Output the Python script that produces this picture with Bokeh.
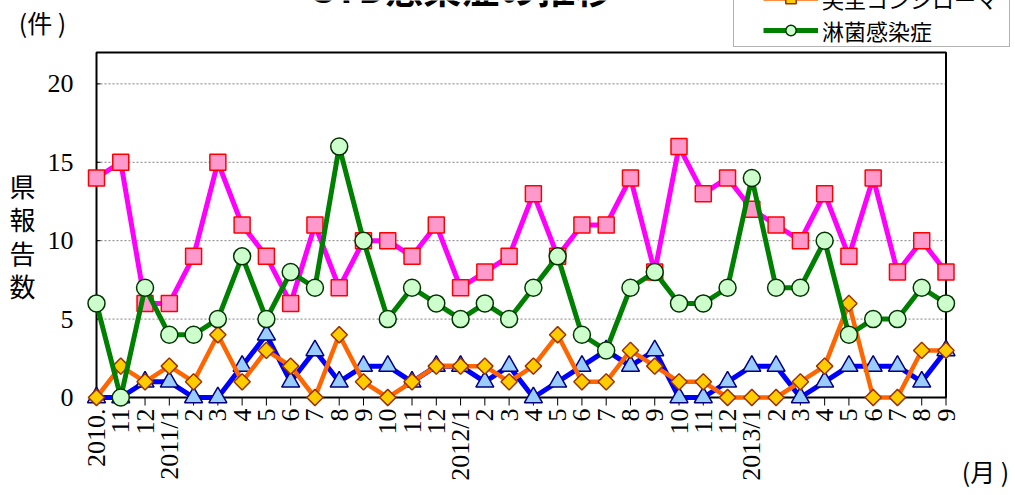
import math
from bokeh.plotting import figure
from bokeh.models import Range1d, Legend, LegendItem, Label
from bokeh.embed import file_html
from bokeh.resources import INLINE

# ---- data -------------------------------------------------------------
months = ["2010.", "11", "12",
          "2011/1", "2", "3", "4", "5", "6", "7", "8", "9", "10", "11", "12",
          "2012/1", "2", "3", "4", "5", "6", "7", "8", "9", "10", "11", "12",
          "2013/1", "2", "3", "4", "5", "6", "7", "8", "9"]
chlamydia = [14, 15, 6, 6, 9, 15, 11, 9, 6, 11, 7, 10, 10, 9, 11, 7, 8, 9,
             13, 9, 11, 11, 14, 8, 16, 13, 14, 12, 11, 10, 13, 9, 14, 8, 10, 8]
herpes = [0, 0, 1, 1, 0, 0, 2, 4, 1, 3, 1, 2, 2, 1, 2, 2, 1, 2,
          0, 1, 2, 3, 2, 3, 0, 0, 1, 2, 2, 0, 1, 2, 2, 2, 1, 3]
condyloma = [0, 2, 1, 2, 1, 4, 1, 3, 2, 0, 4, 1, 0, 1, 2, 2, 2, 1,
             2, 4, 1, 1, 3, 2, 1, 1, 0, 0, 0, 1, 2, 6, 0, 0, 3, 3]
gonorrhea = [6, 0, 7, 4, 4, 5, 9, 5, 8, 7, 16, 10, 5, 7, 6, 5, 6, 5,
             7, 9, 4, 3, 7, 8, 6, 6, 7, 14, 7, 7, 10, 4, 5, 5, 7, 6]
series_names = ["性器クラミジア感染症", "性器ヘルペス", "尖圭コンジローマ", "淋菌感染症"]
y_ticks = [0, 5, 10, 15, 20]
y_max = 22
title = "STD感染症の推移"

# ---- layout (canvas pixels; the frame covers the whole canvas) ---------
W, H = 1015, 495
box_l, box_r, box_t, box_b = 96, 945.5, 52, 397   # data box on the canvas
n = len(months)
xs = list(range(n))
xpx = (box_r - box_l) / (n - 1)
ypx = (box_b - box_t) / y_max

p = figure(width=W, height=H, output_backend="svg", toolbar_location=None,
           x_axis_type=None, y_axis_type=None,
           x_range=Range1d(-box_l / xpx, (n - 1) + (W - box_r) / xpx),
           y_range=Range1d(-(H - box_b) / ypx, y_max + box_t / ypx),
           min_border=0, min_border_left=0, min_border_right=0,
           min_border_top=0, min_border_bottom=0)
p.outline_line_color = None
p.xgrid.visible = False
p.ygrid.visible = False
p.background_fill_color = "white"
p.border_fill_color = "white"

num_font = "Liberation Sans"
cjk = "Noto Sans CJK JP"

# grid lines (dotted) limited to the data box
grid_r = p.segment(x0=[xs[0]] * 4, x1=[xs[-1]] * 4, y0=y_ticks[1:], y1=y_ticks[1:],
                   line_color="#808080", line_width=1, line_dash="2 2")
# small inward ticks on the y axis
p.segment(x0=[xs[0]] * len(y_ticks), x1=[xs[0] + 4 / xpx] * len(y_ticks),
          y0=y_ticks, y1=y_ticks, line_color="black", line_width=1)
# outward ticks on the x axis
p.segment(x0=xs, x1=xs, y0=[0] * n, y1=[-8 / ypx] * n,
          line_color="black", line_width=1)
# plot box
p.quad(left=[xs[0]], right=[xs[-1]], bottom=[0], top=[y_max],
       fill_color=None, line_color="black", line_width=2)

# tick labels
p.text(x=[xs[0]] * len(y_ticks), y=y_ticks, text=[str(t) for t in y_ticks],
       x_offset=-23, text_align="right", text_baseline="middle",
       text_font=num_font, text_font_size="26px", text_color="black")
p.text(x=xs, y=[0] * n, text=months, angle=math.pi / 2, y_offset=11,
       text_align="right", text_baseline="middle",
       text_font=num_font, text_font_size="26px", text_color="black")

# series
l1 = p.line(xs, chlamydia, line_color="#FF00FF", line_width=5, line_join="round")
s1 = p.scatter(xs, chlamydia, marker="square", size=16, fill_color="#FF99CC",
               line_color="#FF0000", line_width=1.5)
l2 = p.line(xs, herpes, line_color="#0000FF", line_width=5, line_join="round")
s2 = p.scatter(xs, herpes, marker="triangle", size=18, fill_color="#99CCFF",
               line_color="#000080", line_width=1.5)
l3 = p.line(xs, condyloma, line_color="#FF6600", line_width=4.5, line_join="round")
s3 = p.scatter(xs, condyloma, marker="square", angle=math.pi / 4, size=11.5,
               fill_color="#FFCC00", line_color="#993300", line_width=1.5)
l4 = p.line(xs, gonorrhea, line_color="#008000", line_width=5, line_join="round")
s4 = p.scatter(xs, gonorrhea, marker="circle", size=17, fill_color="#CCFFCC",
               line_color="#003300", line_width=1.5)

# legend frame (box only)
leg_box = Legend(items=[LegendItem(label=" ", renderers=[grid_r])],
                 location=(733, H - 47), glyph_width=0,
                 glyph_height=90, label_height=90, label_width=275,
                 label_standoff=0, padding=0, spacing=0, margin=0,
                 border_line_color="#666666", border_line_width=1,
                 background_fill_color="white", background_fill_alpha=1,
                 label_text_alpha=0)
# legend entries
leg = Legend(items=[LegendItem(label=series_names[2], renderers=[l3, s3]),
                    LegendItem(label=series_names[3], renderers=[l4, s4])],
             location=(763, H - 46), glyph_width=55,
             glyph_height=26, label_height=26, label_standoff=4, padding=0,
             spacing=0, margin=0, border_line_alpha=0, background_fill_alpha=0,
             label_text_font="Liberation Sans, Noto Sans CJK JP",
             label_text_font_size="22px", label_text_color="black")
p.add_layout(leg_box, "center")
p.add_layout(leg, "center")

# texts
p.add_layout(Label(x=462, y=H + 14, x_units="screen", y_units="screen",
                   text=title, text_font=cjk, text_font_size="38px",
                   text_font_style="bold", text_align="center",
                   text_baseline="alphabetic", text_color="black"))
p.add_layout(Label(x=42, y=H - 21, x_units="screen", y_units="screen",
                   text="(件 )", text_font=cjk, text_font_size="25px",
                   text_align="center", text_baseline="middle", text_color="black"))
p.add_layout(Label(x=22, y=H - 235, x_units="screen", y_units="screen",
                   text="県\n報\n告\n数", text_font=cjk, text_font_size="26px",
                   text_line_height=0.9, text_align="center", text_baseline="middle",
                   text_color="black"))
p.add_layout(Label(x=985, y=H - 470, x_units="screen", y_units="screen",
                   text="(月 )", text_font=cjk, text_font_size="25px",
                   text_align="center", text_baseline="middle", text_color="black"))

open("out.html", "w").write(file_html(p, INLINE))
